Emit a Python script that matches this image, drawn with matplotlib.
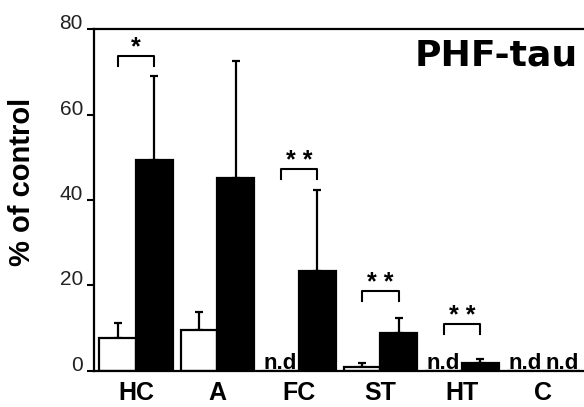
import numpy as np
import matplotlib
matplotlib.use('Agg')
import matplotlib.pyplot as plt

plt.rcParams['font.family'] = ['Liberation Sans', 'DejaVu Sans']

regions = ['HC', 'A', 'FC', 'ST', 'HT', 'C']
ctrl_vals = [7.7, 9.6, 0, 1.0, 0, 0]
ctrl_err = [3.5, 4.2, 0, 0.9, 0, 0]
ad_vals = [49.4, 45.2, 23.4, 8.9, 1.9, 0]
ad_err = [19.6, 27.3, 19.0, 3.5, 0.9, 0]
ctrl_nd = [False, False, True, False, True, True]
ad_nd = [False, False, False, False, False, True]
# significance: group index, bracket top, star label
sig_groups = [0, 2, 3, 4]
sig_tops = [73.7, 47.3, 18.7, 11.0]
sig_labels = ['*', '* *', '* *', '* *']

fig = plt.figure(figsize=(5.84, 4.07), dpi=100)
ax = fig.add_axes([0.161, 0.0885, 0.839, 0.8402])

x = np.arange(len(regions))
w = 0.45

ax.bar(x - w / 2, ctrl_vals, w, color='white', edgecolor='black', linewidth=1.6, zorder=2)
ax.bar(x + w / 2, ad_vals, w, color='black', edgecolor='black', linewidth=1.6, zorder=2)

for i in range(len(regions)):
    if not ctrl_nd[i]:
        ax.errorbar(x[i] - w / 2, ctrl_vals[i], yerr=[[0], [ctrl_err[i]]], fmt='none',
                    ecolor='black', elinewidth=1.6, capsize=3, capthick=1.6, zorder=1)
    else:
        ax.text(x[i] - w / 2, 0.5, 'n.d', ha='center', va='baseline', fontsize=16,
                fontweight='bold')
    if not ad_nd[i]:
        ax.errorbar(x[i] + w / 2, ad_vals[i], yerr=[[0], [ad_err[i]]], fmt='none',
                    ecolor='black', elinewidth=1.6, capsize=3, capthick=1.6, zorder=1)
    else:
        ax.text(x[i] + w / 2, 0.5, 'n.d', ha='center', va='baseline', fontsize=16,
                fontweight='bold')

for g, top, lab in zip(sig_groups, sig_tops, sig_labels):
    x0 = x[g] - w / 2
    x1 = x[g] + w / 2
    ax.plot([x0, x0, x1, x1], [top - 2.4, top, top, top - 2.4], color='black', lw=1.5,
            clip_on=False)
    ax.text((x0 + x1) / 2, top + 0.3, lab, ha='center', va='baseline', fontsize=18,
            fontweight='bold')

ax.set_xlim(-0.515, 5.497)
ax.set_ylim(0, 80)
ax.set_yticks([0, 20, 40, 60, 80])
ax.set_yticklabels(['0', '20', '40', '60', '80'], fontsize=15, color='#222222')
for lab in ax.get_yticklabels():
    lab.set_verticalalignment('baseline')
ax.set_xticks(x)
ax.set_xticklabels(regions, fontsize=18, fontweight='bold')
ax.tick_params(axis='x', length=0, pad=7)
ax.tick_params(axis='y', length=5, width=1.5, pad=3)

ax.spines['right'].set_visible(False)
for s in ['left', 'top', 'bottom']:
    ax.spines[s].set_linewidth(1.6)

ax.set_ylabel('% of control', fontsize=21, fontweight='bold')
ax.yaxis.set_label_coords(-0.118, 0.554)

ax.text(0.988, 0.924, 'PHF-tau', transform=ax.transAxes, ha='right', va='center',
        fontsize=26, fontweight='bold', family='DejaVu Sans')

plt.savefig('out.png', dpi=100)
